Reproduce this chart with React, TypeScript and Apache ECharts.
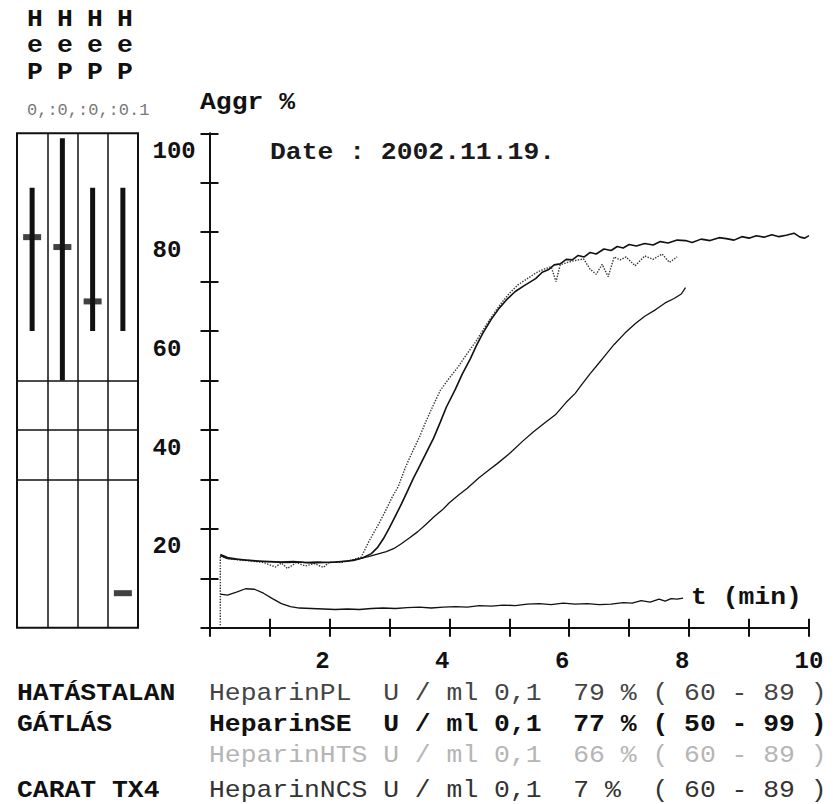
import React, { useEffect, useRef } from "react";
import * as echarts from "echarts";

// ---------- data ----------
const xLabelValues = [2, 4, 6, 8, 10];
const yLabelValues = [20, 40, 60, 80, 100];

const testCategories = ["PL", "SE", "HTS", "NCS"];
const headerLetters = ["H", "e", "P"];
const resultValues = [79, 77, 66, 7];
const rangeLow = [60, 50, 60, 60];
const rangeHigh = [89, 99, 89, 89];
const panelLines = [30, 40, 50];

// HeparinPL (solid, runs to 10 min)
const plCurve: number[][] = [
  [0.18, 14.8], [0.3, 14.2], [0.45, 13.9], [0.6, 13.7], [0.8, 13.5], [1.0, 13.4], [1.2, 13.3], [1.4, 13.4],
  [1.6, 13.2], [1.8, 13.3], [2.0, 13.2], [2.2, 13.4], [2.4, 13.6], [2.55, 14.1], [2.7, 15.0], [2.8, 16.2],
  [2.9, 18.0], [3.0, 20.2], [3.1, 22.6], [3.2, 25.0], [3.3, 27.6], [3.4, 30.2], [3.5, 32.6], [3.6, 35.0],
  [3.74, 38.4], [3.85, 41.6], [3.95, 44.6], [4.1, 48.2], [4.22, 51.4], [4.35, 54.4], [4.45, 57.0], [4.56, 59.6],
  [4.7, 62.4], [4.83, 64.6], [4.96, 66.4], [5.1, 68.0], [5.25, 69.2], [5.44, 70.6], [5.55, 71.9], [5.65, 72.4],
  [5.75, 73.4], [5.85, 73.6], [5.95, 74.5], [6.05, 74.4], [6.15, 75.3], [6.25, 75.0], [6.35, 75.9], [6.45, 75.6],
  [6.58, 76.6], [6.7, 76.3], [6.8, 77.1], [6.9, 76.8], [7.0, 77.5], [7.12, 77.2], [7.26, 77.7], [7.4, 77.4],
  [7.52, 78.1], [7.65, 77.8], [7.8, 78.4], [7.94, 78.3], [8.05, 77.9], [8.2, 78.6], [8.35, 78.3], [8.5, 78.9],
  [8.62, 78.7], [8.75, 78.4], [8.88, 79.1], [9.0, 78.8], [9.12, 79.3], [9.25, 79.0], [9.38, 79.5], [9.5, 79.1],
  [9.62, 79.4], [9.75, 79.8], [9.85, 79.0], [9.93, 78.8], [10.0, 79.3],
];

// HeparinSE (dotted trace)
const seCurve: number[][] = [
  [0.18, 0.5], [0.18, 14.6], [0.3, 14.0], [0.5, 13.7], [0.7, 13.5], [0.9, 13.2], [1.1, 12.3], [1.2, 13.1],
  [1.3, 12.0], [1.45, 13.2], [1.6, 12.5], [1.75, 13.0], [1.9, 12.2], [2.0, 13.3], [2.2, 13.2], [2.4, 13.8],
  [2.53, 14.3], [2.66, 17.5], [2.8, 20.5], [2.93, 23.5], [3.05, 26.5], [3.15, 28.6], [3.27, 32.5], [3.4, 36.0],
  [3.5, 38.5], [3.62, 42.0], [3.74, 45.2], [3.85, 48.0], [4.0, 50.5], [4.15, 52.8], [4.3, 55.5], [4.45, 58.0],
  [4.56, 60.2], [4.7, 62.8], [4.85, 65.4], [5.0, 67.6], [5.15, 69.4], [5.3, 70.6], [5.45, 71.8], [5.57, 72.5],
  [5.7, 73.0], [5.78, 70.0], [5.85, 73.4], [6.0, 74.0], [6.15, 74.4], [6.24, 74.6], [6.35, 72.5], [6.45, 71.5],
  [6.55, 73.5], [6.65, 71.0], [6.75, 75.0], [6.85, 74.4], [6.95, 75.0], [7.1, 73.2], [7.26, 75.2], [7.4, 74.5],
  [7.55, 75.6], [7.67, 73.9], [7.8, 75.0],
];

// HeparinHTS (thin solid, to 8 min)
const htsCurve: number[][] = [
  [0.18, 14.6], [0.3, 14.0], [0.5, 13.8], [0.7, 13.6], [0.9, 13.4], [1.1, 13.3], [1.3, 13.2], [1.5, 13.3],
  [1.7, 13.1], [1.9, 13.2], [2.1, 13.3], [2.3, 13.5], [2.5, 14.0], [2.65, 14.4], [2.8, 14.9], [2.95, 15.4],
  [3.07, 16.0], [3.2, 17.0], [3.35, 18.3], [3.47, 19.4], [3.6, 20.8], [3.75, 22.5], [3.88, 23.8], [4.0, 25.3],
  [4.15, 26.8], [4.3, 28.2], [4.49, 30.3], [4.65, 31.8], [4.8, 33.2], [5.0, 35.2], [5.23, 37.8], [5.4, 39.6],
  [5.6, 41.5], [5.78, 43.2], [5.95, 45.6], [6.1, 47.4], [6.18, 48.7], [6.35, 51.4], [6.5, 53.6], [6.58, 54.8],
  [6.75, 57.3], [6.93, 59.6], [7.1, 61.5], [7.26, 63.0], [7.45, 64.4], [7.6, 65.7], [7.75, 66.6], [7.87, 67.5],
  [7.94, 68.8],
];

// HeparinNCS (low trace, to 8 min)
const ncsCurve: number[][] = [
  [0.18, 6.8], [0.3, 6.6], [0.45, 7.2], [0.6, 7.9], [0.75, 7.8], [0.9, 7.0], [1.05, 5.9], [1.2, 4.9],
  [1.35, 4.3], [1.5, 4.0], [1.7, 3.9], [1.9, 3.8], [2.1, 3.7], [2.3, 3.8], [2.5, 3.7], [2.7, 3.9],
  [2.9, 4.0], [3.1, 3.9], [3.3, 4.1], [3.5, 4.2], [3.7, 4.0], [3.9, 4.2], [4.1, 4.3], [4.3, 4.2],
  [4.5, 4.5], [4.7, 4.4], [4.9, 4.6], [5.1, 4.5], [5.3, 4.8], [5.5, 4.9], [5.7, 4.7], [5.9, 5.0],
  [6.1, 4.8], [6.3, 4.9], [6.5, 4.7], [6.7, 4.8], [6.9, 5.1], [7.05, 5.0], [7.2, 5.5], [7.35, 5.2],
  [7.5, 5.8], [7.6, 5.4], [7.7, 5.9], [7.8, 5.8], [7.9, 6.0],
];

const rowLabels = ["HATÁSTALAN", "GÁTLÁS", "", "CARAT TX4"];
const rowTexts = [
  "HeparinPL  U / ml 0,1  79 % ( 60 - 89 )",
  "HeparinSE  U / ml 0,1  77 % ( 50 - 99 )",
  "HeparinHTS U / ml 0,1  66 % ( 60 - 89 )",
  "HeparinNCS U / ml 0,1  7 %  ( 60 - 89 )",
];
const concentrationText = "0,:0,:0,:0.1";
const yAxisTitle = "Aggr %";
const xAxisTitle = "t (min)";
const dateText = "Date : 2002.11.19.";

// ---------- styling ----------
const FONT = '"Liberation Mono", "Courier New", monospace';
const INK = "#111";

function txt(
  text: string,
  x: number,
  y: number,
  o: { size?: number; weight?: string; fill?: string; align?: string; scaleX?: number } = {}
) {
  const size = o.size ?? 24;
  const weight = o.weight ?? "bold";
  const align = o.align ?? "left";
  return {
    type: "text",
    x,
    y,
    scaleX: o.scaleX ?? 1.1,
    silent: true,
    style: {
      text,
      font: `${weight} ${size}px ${FONT}`,
      fill: o.fill ?? INK,
      textAlign: align,
      align,
      textVerticalAlign: "middle",
      verticalAlign: "middle",
    },
  };
}

export default function App() {
  const ref = useRef<HTMLDivElement>(null);

  useEffect(() => {
    if (!ref.current) return;
    const chart = echarts.init(ref.current, null, { renderer: "svg" });

    const gridTop = 133.3;
    const gridBottom = 176.2;

    const headerX = [35, 65, 95, 125];
    const headerY = [19.5, 45.5, 73];
    const graphics: any[] = [];
    headerX.forEach((hx) => {
      headerLetters.forEach((ch, j) => {
        graphics.push(txt(ch, hx, headerY[j], { align: "center" }));
      });
    });
    graphics.push(txt(concentrationText, 27, 110, { size: 17, weight: "normal", fill: "#777", scaleX: 1 }));
    graphics.push(txt(yAxisTitle, 200, 103));
    graphics.push(txt(dateText, 270, 153, { fill: "#1a1a1a" }));
    graphics.push(txt(xAxisTitle, 691, 598));

    const rowY = [694, 724.5, 756, 791];
    const rowStyle = [
      { weight: "normal", fill: "#444" },
      { weight: "bold", fill: INK },
      { weight: "normal", fill: "#b5b5b5" },
      { weight: "normal", fill: "#333" },
    ];
    rowLabels.forEach((lab, i) => {
      if (lab) graphics.push(txt(lab, 17, rowY[i]));
      graphics.push(txt(rowTexts[i], 209, rowY[i], rowStyle[i]));
    });

    const labelFont = { fontFamily: FONT, fontWeight: "bold", fontSize: 24, color: INK };

    const option: any = {
      animation: false,
      backgroundColor: "#fff",
      grid: [
        { left: 209.5, right: 25, top: gridTop, bottom: gridBottom },
        {
          left: 17,
          width: 121,
          top: gridTop,
          bottom: gridBottom,
          show: true,
          borderColor: INK,
          borderWidth: 2,
          backgroundColor: "transparent",
        },
      ],
      xAxis: [
        {
          type: "value",
          gridIndex: 0,
          min: 0,
          max: 10,
          interval: 1,
          position: "bottom",
          axisLine: { show: true, onZero: false, lineStyle: { color: INK, width: 2 } },
          axisTick: { show: true, length: 9, lineStyle: { color: INK, width: 2 } },
          splitLine: { show: false },
          axisLabel: {
            margin: 22,
            ...labelFont,
            formatter: (v: number) =>
              xLabelValues.includes(v) ? (v < 10 ? `{s|${v}}` : `{d|${v}}`) : "",
            rich: {
              s: { ...labelFont, padding: [0, 14, 0, 0] },
              d: { ...labelFont },
            },
          },
        },
        {
          type: "value",
          gridIndex: 0,
          min: 0,
          max: 10,
          interval: 1,
          position: "bottom",
          offset: 0,
          axisLine: { show: false, onZero: false },
          axisTick: { show: true, inside: true, length: 9, lineStyle: { color: INK, width: 2 } },
          splitLine: { show: false },
          axisLabel: { show: false },
        },
        {
          type: "category",
          gridIndex: 1,
          data: testCategories,
          boundaryGap: true,
          axisLine: { show: false },
          axisTick: { show: false },
          axisLabel: { show: false },
          splitLine: { show: true, interval: 0, lineStyle: { color: INK, width: 1.5 } },
        },
      ],
      yAxis: [
        {
          type: "value",
          gridIndex: 0,
          min: 0,
          max: 100,
          interval: 10,
          position: "left",
          axisLine: { show: true, onZero: false, lineStyle: { color: INK, width: 2 } },
          axisTick: { show: true, length: 9, lineStyle: { color: INK, width: 2 } },
          splitLine: { show: false },
          axisLabel: {
            ...labelFont,
            align: "left",
            margin: 57,
            verticalAlign: "middle",
            formatter: (v: number) => (yLabelValues.includes(v) ? `{a|${v}}` : ""),
            rich: {
              a: { ...labelFont, padding: [36, 0, 0, 0] },
            },
          },
        },
        {
          type: "value",
          gridIndex: 0,
          min: 0,
          max: 100,
          interval: 10,
          position: "left",
          offset: 0,
          axisLine: { show: false, onZero: false },
          axisTick: { show: true, inside: true, length: 9, lineStyle: { color: INK, width: 2 } },
          splitLine: { show: false },
          axisLabel: { show: false },
        },
        {
          type: "value",
          gridIndex: 1,
          min: 0,
          max: 100,
          show: false,
          splitLine: { show: false },
        },
      ],
      series: [
        {
          name: "HeparinPL",
          type: "line",
          xAxisIndex: 0,
          yAxisIndex: 0,
          data: plCurve,
          symbol: "none",
          lineStyle: { color: "#111", width: 1.6 },
          silent: true,
        },
        {
          name: "HeparinSE",
          type: "line",
          xAxisIndex: 0,
          yAxisIndex: 0,
          data: seCurve,
          symbol: "none",
          lineStyle: { color: "#333", width: 1.4, type: "dotted" },
          silent: true,
        },
        {
          name: "HeparinHTS",
          type: "line",
          xAxisIndex: 0,
          yAxisIndex: 0,
          data: htsCurve,
          symbol: "none",
          lineStyle: { color: "#111", width: 1.3 },
          silent: true,
        },
        {
          name: "HeparinNCS",
          type: "line",
          xAxisIndex: 0,
          yAxisIndex: 0,
          data: ncsCurve,
          symbol: "none",
          lineStyle: { color: "#111", width: 1.3 },
          silent: true,
        },
        {
          name: "rangeBase",
          type: "bar",
          xAxisIndex: 2,
          yAxisIndex: 2,
          stack: "range",
          data: rangeLow,
          barWidth: 5,
          itemStyle: { color: "transparent" },
          silent: true,
          markLine: {
            silent: true,
            symbol: "none",
            label: { show: false },
            lineStyle: { color: INK, width: 1.5, type: "solid" },
            data: panelLines.map((v) => ({ yAxis: v })),
          },
        },
        {
          name: "range",
          type: "bar",
          xAxisIndex: 2,
          yAxisIndex: 2,
          stack: "range",
          data: rangeHigh.map((h, i) => h - rangeLow[i]),
          barWidth: 5,
          itemStyle: { color: INK },
          silent: true,
        },
        {
          name: "result",
          type: "scatter",
          xAxisIndex: 2,
          yAxisIndex: 2,
          data: resultValues.map((v, i) => [testCategories[i], v]),
          symbol: "rect",
          symbolSize: [18, 6],
          itemStyle: { color: INK },
          silent: true,
          z: 5,
        },
      ],
      graphic: graphics,
    };

    chart.setOption(option);
    return () => chart.dispose();
  }, []);

  return (
    <div
      ref={ref}
      style={{ position: "fixed", left: 0, top: 0, width: 834, height: 804, background: "#fff" }}
    />
  );
}
